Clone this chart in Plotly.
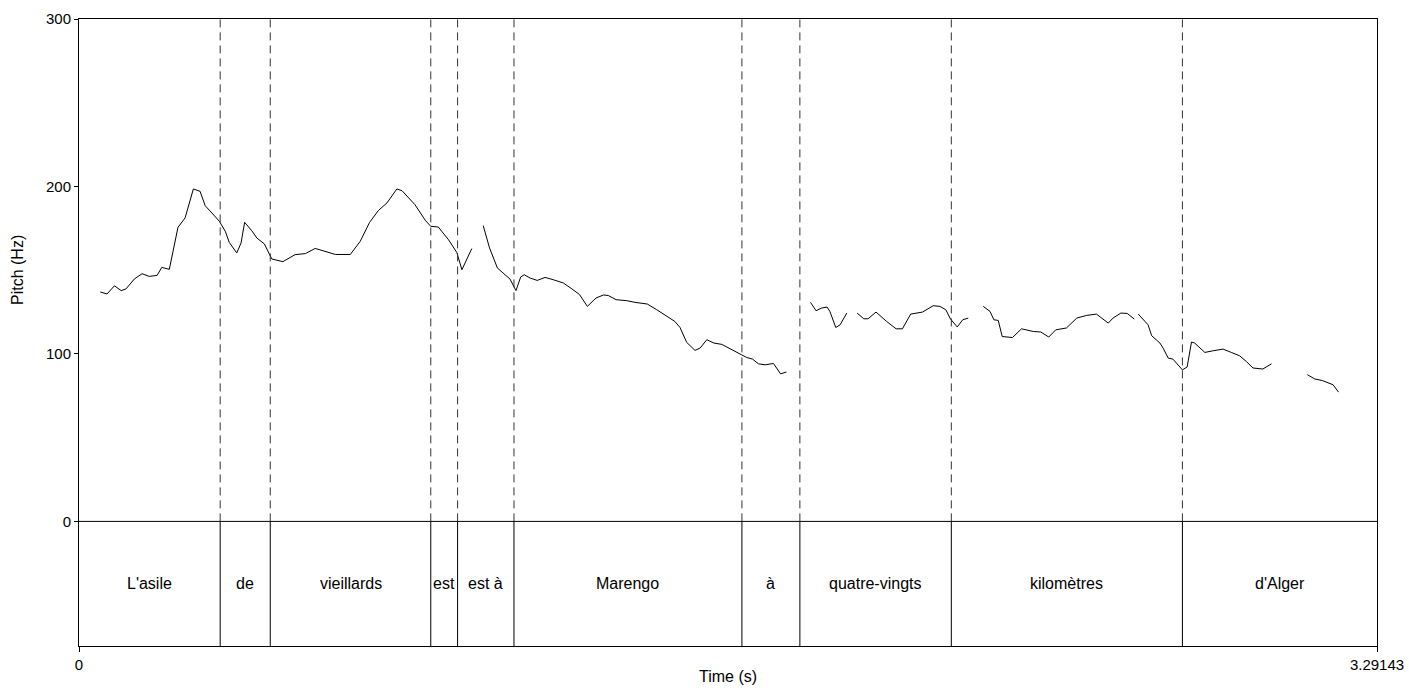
import plotly.graph_objects as go

# ---- data -------------------------------------------------------------
duration = 3.29143

seg1_t = [0.054, 0.071, 0.090, 0.107, 0.119, 0.141, 0.160, 0.178, 0.198, 0.210, 0.229, 0.251,
          0.269, 0.290, 0.307, 0.320, 0.337, 0.356, 0.371, 0.381, 0.400, 0.411, 0.420, 0.438,
          0.451, 0.470, 0.489, 0.498, 0.517, 0.548, 0.574, 0.599, 0.624, 0.650, 0.688, 0.713,
          0.737, 0.759, 0.781, 0.806, 0.819, 0.852, 0.878, 0.892, 0.911, 0.937, 0.958, 0.971, 0.996]
seg1_f = [137.0, 135.8, 140.7, 137.8, 138.8, 144.9, 147.9, 146.3, 146.9, 151.7, 150.5, 175.6,
          181.2, 198.5, 197.1, 188.5, 184.2, 179.2, 173.2, 166.6, 160.3, 166.3, 178.6, 173.6,
          169.2, 165.7, 156.7, 156.3, 155.1, 159.3, 159.9, 163.0, 161.2, 159.4, 159.4, 167.2,
          178.6, 185.6, 190.2, 198.5, 197.5, 189.1, 179.8, 176.2, 175.8, 168.2, 160.6, 150.3, 162.9]

seg2_t = [1.025, 1.041, 1.061, 1.085, 1.093, 1.108, 1.120, 1.129, 1.144, 1.162, 1.182, 1.203,
          1.228, 1.250, 1.269, 1.289, 1.311, 1.330, 1.342, 1.362, 1.389, 1.410, 1.441, 1.465,
          1.486, 1.511, 1.524, 1.541, 1.562, 1.575, 1.592, 1.610, 1.630, 1.651, 1.680, 1.693,
          1.708, 1.723, 1.740, 1.761, 1.779, 1.794]
seg2_f = [176.6, 163.3, 151.3, 145.9, 144.7, 137.8, 145.9, 147.3, 145.3, 143.9, 145.7, 144.3,
          142.4, 138.8, 135.5, 128.4, 133.4, 135.2, 134.9, 132.4, 131.8, 130.8, 129.8, 126.4,
          123.0, 119.4, 115.8, 106.9, 102.1, 103.5, 108.5, 106.5, 105.7, 102.9, 99.5, 97.9,
          96.9, 94.1, 93.5, 94.3, 88.1, 89.2]

seg3_t = [1.855, 1.869, 1.883, 1.897, 1.904, 1.919, 1.930, 1.947]
seg3_f = [130.8, 125.8, 127.4, 128.0, 125.4, 115.8, 117.4, 124.4]

seg4_t = [1.973, 1.990, 2.001, 2.021, 2.048, 2.072, 2.088, 2.109, 2.139, 2.166, 2.183, 2.198,
          2.210, 2.227, 2.241, 2.255]
seg4_f = [124.4, 121.0, 121.0, 125.0, 119.4, 115.0, 115.0, 123.8, 125.0, 128.8, 128.4, 126.4,
          120.8, 116.1, 120.4, 121.4]

seg5_t = [2.293, 2.310, 2.320, 2.331, 2.341, 2.367, 2.390, 2.420, 2.439, 2.459, 2.477, 2.504,
          2.530, 2.555, 2.580, 2.610, 2.622, 2.642, 2.658, 2.676]
seg5_f = [128.4, 125.4, 120.4, 120.0, 110.4, 109.8, 115.0, 113.4, 113.1, 110.1, 114.4, 115.5,
          121.4, 123.0, 123.8, 118.4, 121.4, 124.4, 124.2, 120.8]

seg6_t = [2.686, 2.711, 2.720, 2.741, 2.749, 2.762, 2.774, 2.790, 2.798, 2.810, 2.821, 2.829,
          2.855, 2.876, 2.901, 2.922, 2.943, 2.960, 2.977, 3.002, 3.024]
seg6_f = [123.8, 117.4, 110.9, 106.5, 103.5, 97.5, 96.9, 92.2, 90.5, 92.2, 107.1, 106.5,
          100.9, 101.9, 102.9, 100.9, 98.9, 95.5, 91.6, 91.0, 94.1]

seg7_t = [3.115, 3.134, 3.153, 3.180, 3.194]
seg7_f = [87.6, 85.0, 84.1, 81.6, 77.2]

words = ["L'asile", "de", "vieillards", "est", "est à", "Marengo", "à",
         "quatre-vingts", "kilomètres", "d'Alger"]
word_bounds = [0.0, 0.358, 0.485, 0.892, 0.960, 1.103, 1.681, 1.828, 2.212, 2.798, duration]

y_ticks = [0, 100, 200, 300]
x_ticks = [0, duration]
x_tick_text = ["0", "3.29143"]
y_top = 300
y_bottom = -74.4

# ---- figure -----------------------------------------------------------
FONT = "Liberation Sans, Arial, sans-serif"
FS_TICK = 15
FS_TEXT = 16

segments = [(seg1_t, seg1_f), (seg2_t, seg2_f), (seg3_t, seg3_f), (seg4_t, seg4_f),
            (seg5_t, seg5_f), (seg6_t, seg6_f), (seg7_t, seg7_f)]
xs, ys = [], []
for t, f in segments:
    xs += t + [None]
    ys += f + [None]

fig = go.Figure()
fig.add_trace(go.Scatter(x=xs, y=ys, mode="lines", connectgaps=False,
                         line=dict(color="black", width=1), hoverinfo="skip",
                         showlegend=False))

shapes = []
shapes.append(dict(type="line", xref="x", yref="y", x0=0, x1=duration, y0=0, y1=0,
                   line=dict(color="black", width=1)))
for b in word_bounds[1:-1]:
    shapes.append(dict(type="line", xref="x", yref="y", x0=b, x1=b, y0=0, y1=y_top,
                       line=dict(color="#333333", width=1, dash="8px,5px")))
    shapes.append(dict(type="line", xref="x", yref="y", x0=b, x1=b, y0=y_bottom, y1=0,
                       line=dict(color="black", width=1)))

annotations = []
for i, w in enumerate(words):
    annotations.append(dict(x=(word_bounds[i] + word_bounds[i + 1]) / 2, y=y_bottom / 2,
                            xref="x", yref="y", text=w, showarrow=False,
                            font=dict(family=FONT, size=FS_TEXT, color="black")))
annotations.append(dict(x=0.5, y=-0.0494, xref="paper", yref="paper", text="Time (s)",
                        showarrow=False, xanchor="center", yanchor="middle",
                        font=dict(family=FONT, size=FS_TEXT, color="black")))
annotations.append(dict(x=-0.047, y=0.5997, xref="paper", yref="paper", text="Pitch (Hz)",
                        showarrow=False, textangle=-90, xanchor="center", yanchor="middle",
                        font=dict(family=FONT, size=FS_TEXT, color="black")))

fig.update_layout(
    width=1409, height=693,
    margin=dict(l=79, r=32, t=19, b=47, autoexpand=False),
    paper_bgcolor="white", plot_bgcolor="white",
    shapes=shapes, annotations=annotations,
    font=dict(family=FONT, size=FS_TICK, color="black"),
    xaxis=dict(range=[0, duration], showgrid=False, zeroline=False,
               showline=True, mirror=True, linecolor="black", linewidth=1,
               ticks="outside", ticklen=5, tickcolor="black",
               tickvals=x_ticks, ticktext=x_tick_text,
               tickfont=dict(family=FONT, size=FS_TICK, color="black")),
    yaxis=dict(range=[y_bottom, y_top], showgrid=False, zeroline=False,
               showline=True, mirror=True, linecolor="black", linewidth=1,
               ticks="outside", ticklen=4, tickcolor="black",
               tickvals=y_ticks,
               tickfont=dict(family=FONT, size=FS_TICK, color="black")),
)

fig.write_html("out.html", config={"displayModeBar": False},
               post_script="document.body.style.margin='0px';document.body.style.overflow='hidden';")
